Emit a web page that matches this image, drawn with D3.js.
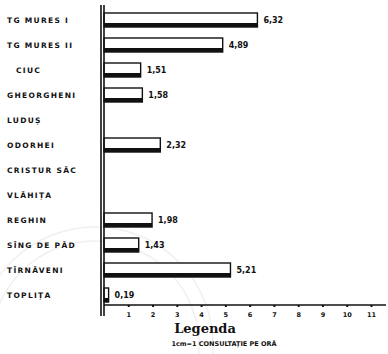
<!DOCTYPE html>
<html>
<head>
<meta charset="utf-8">
<script src="https://cdn.jsdelivr.net/npm/d3@7"></script>
<style>
  body { margin: 0; background: #fff; }
  svg { display: block; }
  .lbl { font-family: "DejaVu Sans", sans-serif; font-weight: bold; font-size: 7.5px; letter-spacing: 1.3px; fill: #111; }
  .val { font-family: "DejaVu Sans", sans-serif; font-weight: bold; font-size: 8px; fill: #111; }
</style>
</head>
<body>
<svg id="chart"></svg>
<script>
  const towns = ['TG MURES I', 'TG MURES II', 'CIUC', 'GHEORGHENI', 'LUDUȘ', 'ODORHEI',
    'CRISTUR SĂC', 'VLĂHIȚA', 'REGHIN', 'SÎNG DE PĂD', 'TÎRNĂVENI', 'TOPLIȚA'];
  const values = [6.32, 4.89, 1.51, 1.58, null, 2.32, null, null, 1.98, 1.43, 5.21, 0.19];
  const valueLabels = ['6,32', '4,89', '1,51', '1,58', '', '2,32', '', '', '1,98', '1,43', '5,21', '0,19'];
  const ticks = [1, 2, 3, 4, 5, 6, 7, 8, 9, 10, 11];

  const svgWidth = 388;
  const svgHeight = 354;

  const svg = d3.select('#chart')
    .attr('width', svgWidth)
    .attr('height', svgHeight);

  // faint seal in the background
  const seal = svg.append('g').attr('fill', 'none').attr('stroke', '#f0f0f0');
  [118, 104].forEach(r => {
    seal.append('circle').attr('cx', 95).attr('cy', 345).attr('r', r).attr('stroke-width', 1.5);
  });

  const xScale = d3.scaleLinear()
    .domain([0, 11])
    .range([104, 371]);

  const yScale = d3.scaleBand()
    .domain(towns)
    .range([7.5, 307.5]);

  const data = towns.map((name, i) => ({ name, value: values[i], label: valueLabels[i] }));

  // town names
  svg.selectAll('.lbl')
    .data(data)
    .enter()
    .append('text')
    .attr('class', 'lbl')
    .attr('x', d => d.name === 'CIUC' ? 16 : 7)
    .attr('y', d => yScale(d.name) + yScale.bandwidth() / 2)
    .attr('dy', '0.35em')
    .text(d => d.name);

  const bars = svg.selectAll('.bar')
    .data(data.filter(d => d.value !== null))
    .enter()
    .append('g')
    .attr('class', 'bar');

  const barH = 14;

  bars.append('rect')
    .attr('x', xScale(0))
    .attr('y', d => yScale(d.name) + yScale.bandwidth() / 2 - barH / 2)
    .attr('width', d => xScale(d.value) - xScale(0))
    .attr('height', barH)
    .attr('fill', '#fff')
    .attr('stroke', '#111')
    .attr('stroke-width', 1.4);

  bars.append('rect')
    .attr('x', xScale(0))
    .attr('y', d => yScale(d.name) + yScale.bandwidth() / 2 + barH / 2 - 4)
    .attr('width', d => xScale(d.value) - xScale(0))
    .attr('height', 4)
    .attr('fill', '#111');

  bars.append('text')
    .attr('class', 'val')
    .attr('x', d => xScale(d.value) + 6)
    .attr('y', d => yScale(d.name) + yScale.bandwidth() / 2)
    .attr('dy', '0.35em')
    .text(d => d.label);

  // bottom axis
  const axis = svg.append('g')
    .attr('transform', 'translate(0, 305)')
    .call(d3.axisBottom(xScale).tickValues(ticks).tickSize(2).tickPadding(5));
  axis.select('.domain').remove();
  axis.selectAll('line').attr('stroke', '#111').attr('stroke-width', 2);
  axis.selectAll('text')
    .attr('font-family', '"DejaVu Sans", sans-serif')
    .attr('font-weight', 'bold')
    .attr('font-size', 6.5)
    .attr('fill', '#111');

  svg.append('line')
    .attr('x1', xScale(0)).attr('x2', 386)
    .attr('y1', 305).attr('y2', 305)
    .attr('stroke', '#111').attr('stroke-width', 1.5);

  // double vertical axis
  [101, 104].forEach(x => {
    svg.append('line')
      .attr('x1', x).attr('x2', x)
      .attr('y1', 5).attr('y2', 316)
      .attr('stroke', '#111').attr('stroke-width', 1.6);
  });

  // legend
  svg.append('text')
    .attr('x', 205).attr('y', 333)
    .attr('text-anchor', 'middle')
    .attr('font-family', '"DejaVu Serif", serif')
    .attr('font-weight', 'bold')
    .attr('font-size', 13)
    .attr('fill', '#111')
    .text('Legenda');

  svg.append('text')
    .attr('x', 224).attr('y', 346)
    .attr('text-anchor', 'middle')
    .attr('font-family', '"DejaVu Sans", sans-serif')
    .attr('font-weight', 'bold')
    .attr('font-size', 6.5)
    .attr('fill', '#111')
    .text('1cm=1 CONSULTAȚIE PE ORĂ');
</script>
</body>
</html>
